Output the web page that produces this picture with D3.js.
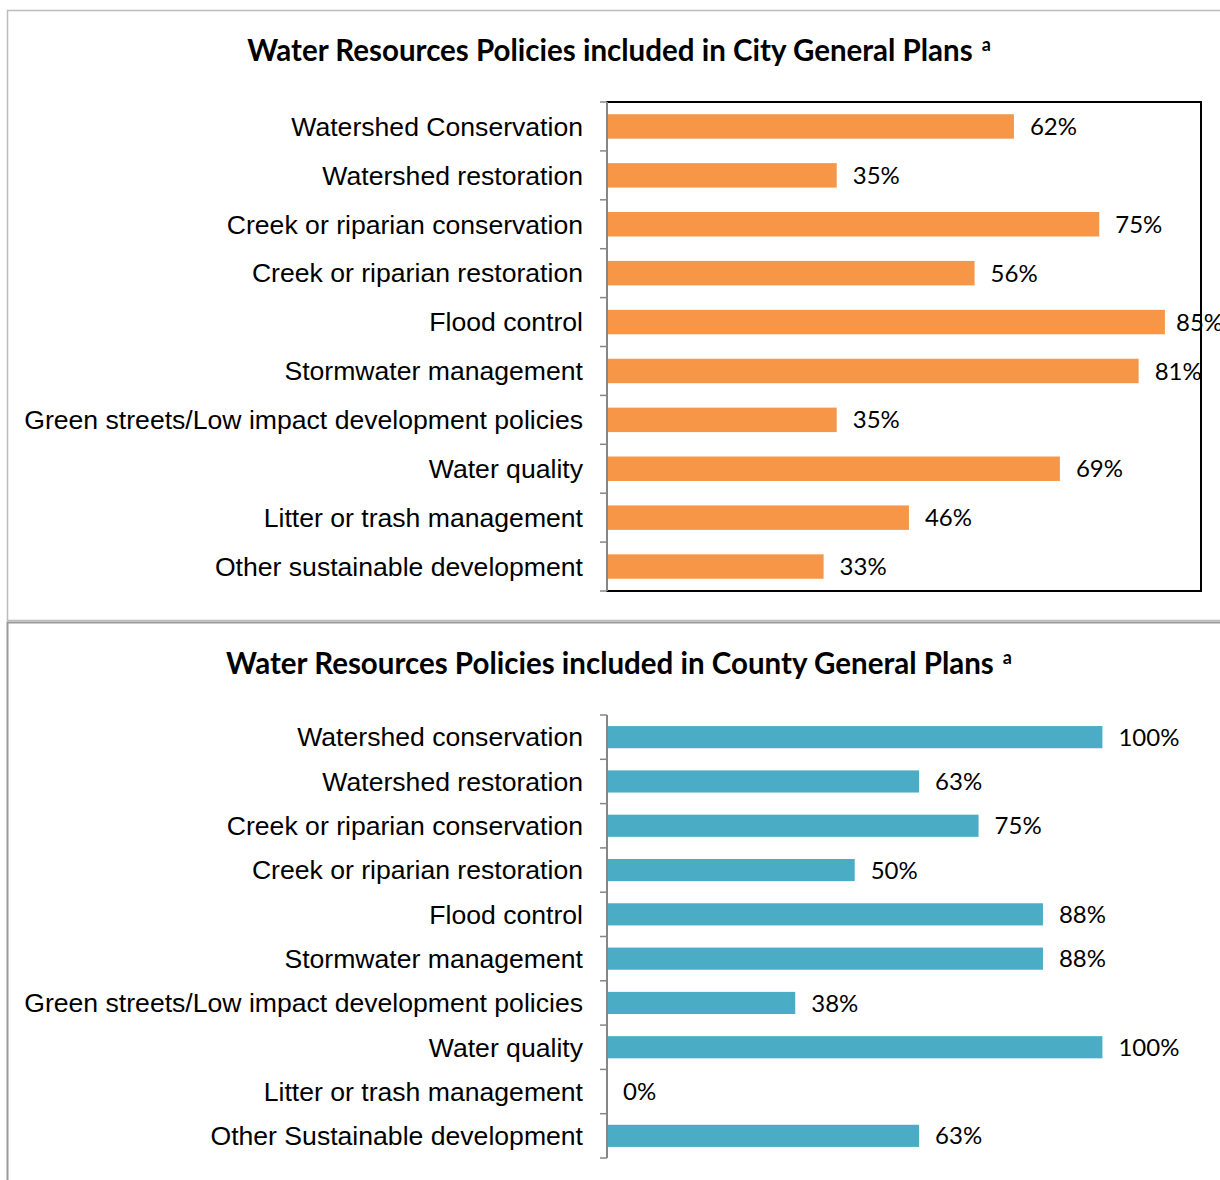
<!DOCTYPE html>
<html>
<head>
<meta charset="utf-8">
<script src="https://cdn.jsdelivr.net/npm/d3@7"></script>
<style>
  html, body { margin: 0; padding: 0; background: #fff; }
  svg { display: block; }
</style>
</head>
<body>
<svg id="chart" width="1220" height="1180"></svg>
<script>
// Policy categories and shares of plans that include them
const cityCategories = [
  "Watershed Conservation",
  "Watershed restoration",
  "Creek or riparian conservation",
  "Creek or riparian restoration",
  "Flood control",
  "Stormwater management",
  "Green streets/Low impact development policies",
  "Water quality",
  "Litter or trash management",
  "Other sustainable development"
];
const cityValues = [0.62, 0.35, 0.75, 0.56, 0.85, 0.81, 0.35, 0.69, 0.46, 0.33];

const countyCategories = [
  "Watershed conservation",
  "Watershed restoration",
  "Creek or riparian conservation",
  "Creek or riparian restoration",
  "Flood control",
  "Stormwater management",
  "Green streets/Low impact development policies",
  "Water quality",
  "Litter or trash management",
  "Other Sustainable development"
];
const countyValues = [1.00, 0.63, 0.75, 0.50, 0.88, 0.88, 0.38, 1.00, 0.00, 0.63];

const titles = [
  "Water Resources Policies included in City General Plans",
  "Water Resources Policies included in County General Plans"
];

const svg = d3.select("#chart");
const pct = d3.format(".0%");

const labelFont = "'Liberation Sans', Arial, sans-serif";
const valueFont = "Lato, 'Open Sans', sans-serif";

// Outer frames of the two panels
svg.append("path")
  .attr("d", "M1220,10.5 H7.5 V620.5 H1220")
  .attr("fill", "none").attr("stroke", "#bdbdbd").attr("stroke-width", 1.5);
svg.append("path")
  .attr("d", "M1220,622.5 H7.5 V1180")
  .attr("fill", "none").attr("stroke", "#9a9a9a").attr("stroke-width", 2);

function drawPanel(opts) {
  const g = svg.append("g");

  // Title with superscript note marker
  const t = g.append("text")
    .attr("x", opts.titleX).attr("y", opts.titleY)
    .attr("text-anchor", "middle")
    .attr("font-family", valueFont).attr("font-weight", 700)
    .attr("font-size", 29.5).attr("fill", "#000");
  t.append("tspan").text(opts.title);
  t.append("tspan").text("a").attr("font-size", 18).attr("dx", 9).attr("dy", -10);

  const x = d3.scaleLinear().domain([0, opts.xMax]).range([opts.left, opts.right]);
  const y = d3.scaleBand().domain(opts.categories)
    .range([opts.top, opts.bottom]).paddingInner(0.5).paddingOuter(0.25);

  if (opts.frame) {
    g.append("rect")
      .attr("x", opts.left).attr("y", opts.top)
      .attr("width", opts.right - opts.left).attr("height", opts.bottom - opts.top)
      .attr("fill", "none").attr("stroke", "#000").attr("stroke-width", 2);
  }

  // Bars
  g.selectAll("rect.bar").data(opts.values).join("rect")
    .attr("class", "bar")
    .attr("x", x(0) + 1)
    .attr("y", (d, i) => y(opts.categories[i]))
    .attr("width", d => Math.max(0, x(d) - x(0) - 1))
    .attr("height", y.bandwidth())
    .attr("fill", opts.color);

  // Value labels
  g.selectAll("text.val").data(opts.values).join("text")
    .attr("class", "val")
    .attr("x", d => Math.min(x(d) + 16, opts.labelLimit))
    .attr("y", (d, i) => y(opts.categories[i]) + y.bandwidth() / 2)
    .attr("dy", "0.36em")
    .attr("font-family", valueFont).attr("font-size", 24)
    .attr("fill", "#000")
    .text(d => pct(d));

  // Category axis with tick marks at band boundaries
  const axis = g.append("g");
  axis.append("line")
    .attr("x1", opts.left).attr("x2", opts.left)
    .attr("y1", opts.top).attr("y2", opts.bottom)
    .attr("stroke", "#868686").attr("stroke-width", 2);
  const bounds = d3.range(opts.categories.length + 1)
    .map(i => opts.top + i * y.step());
  axis.selectAll("line.tick").data(bounds).join("line")
    .attr("class", "tick")
    .attr("x1", opts.left - 7).attr("x2", opts.left)
    .attr("y1", d => d).attr("y2", d => d)
    .attr("stroke", "#868686").attr("stroke-width", 1.5);

  g.selectAll("text.cat").data(opts.categories).join("text")
    .attr("class", "cat")
    .attr("x", opts.left - 24)
    .attr("y", d => y(d) + y.bandwidth() / 2)
    .attr("dy", "0.35em")
    .attr("text-anchor", "end")
    .attr("font-family", labelFont).attr("font-size", 26.6)
    .attr("fill", "#000")
    .text(d => d);
}

drawPanel({
  title: titles[0], titleX: 619, titleY: 61,
  categories: cityCategories, values: cityValues,
  color: "#F79646",
  left: 607, right: 1201, top: 102, bottom: 591, xMax: 0.905,
  frame: true, labelLimit: 1176
});

drawPanel({
  title: titles[1], titleX: 619, titleY: 674,
  categories: countyCategories, values: countyValues,
  color: "#4BACC6",
  left: 607, right: 1199, top: 715, bottom: 1158, xMax: 1.195,
  frame: false, labelLimit: 1200
});
</script>
</body>
</html>
